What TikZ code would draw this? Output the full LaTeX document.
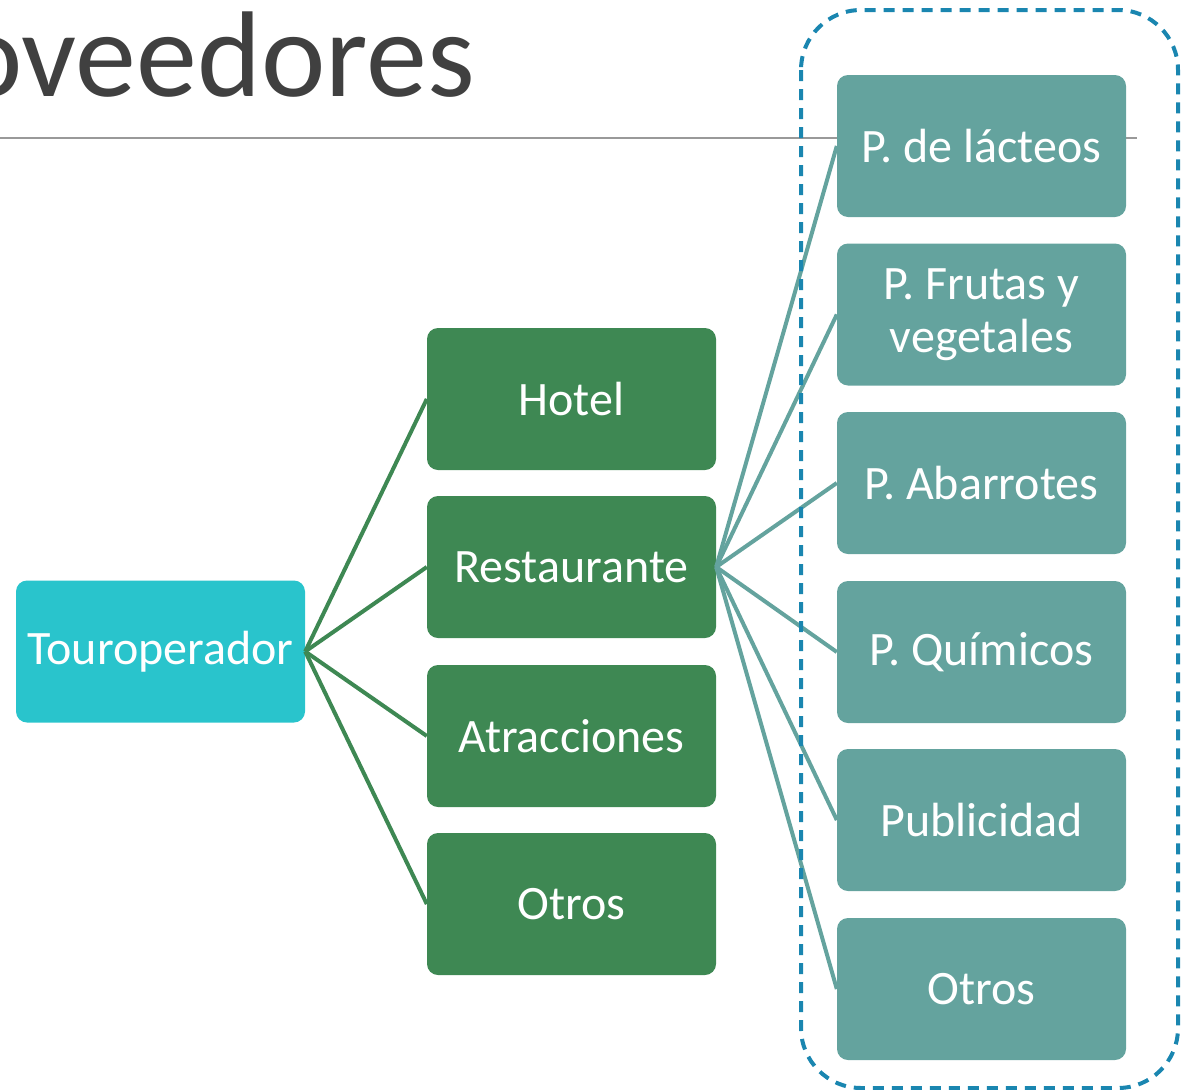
\documentclass[tikz,border=0pt]{standalone}
\usepackage{fontspec}
\setmainfont{Carlito}
\begin{document}
\begin{tikzpicture}[x=1pt,y=-1pt,
  box/.style={rounded corners=11pt,minimum width=289pt,minimum height=142pt,inner sep=0pt,text=white,font=\fontsize{48}{53}\selectfont,align=center},
  root/.style={box,fill=cyanbox},
  mid/.style={box,fill=greenbox},
  leaf/.style={box,fill=tealbox},
  gline/.style={draw=greenbox,line width=4pt},
  tline/.style={draw=tealbox,line width=4pt}]
\definecolor{cyanbox}{HTML}{29C4CC}
\definecolor{greenbox}{HTML}{3E8853}
\definecolor{tealbox}{HTML}{64A39E}
\definecolor{dashblue}{HTML}{1A86B0}
\definecolor{titlegray}{HTML}{404040}
\useasboundingbox (0,0) rectangle (1192,1090);
\begin{scope}
\clip (0,0) rectangle (1192,1090);
\node[anchor=base east,text=titlegray,font=\fontsize{122}{130}\selectfont,inner sep=0pt] (title) at (475,96) {Proveedores};
\end{scope}
\coordinate (hl) at (0,138);
\coordinate (hr) at (1137,138);
\draw[draw=gray!80,line width=2pt] (hl) -- (hr);
\node[root] (tour) at (160.5,651.5) {Touroperador};
\node[mid] (hotel) at (571.5,399) {Hotel};
\node[mid] (rest) at (571.5,567) {Restaurante};
\node[mid] (atr) at (571.5,736) {Atracciones};
\node[mid] (otros) at (571.5,904) {Otros};
\node[leaf] (l1) at (981.5,146) {P. de lácteos};
\node[leaf] (l2) at (981.5,314.5) {P. Frutas y\\vegetales};
\node[leaf] (l3) at (981.5,483) {P. Abarrotes};
\node[leaf] (l4) at (981.5,652) {P. Químicos};
\node[leaf] (l5) at (981.5,820) {Publicidad};
\node[leaf] (l6) at (981.5,989) {Otros};
\foreach \t in {hotel,rest,atr,otros} \draw[gline] (tour.east) -- (\t.west);
\foreach \t in {l1,l2,l3,l4,l5,l6} \draw[tline] (rest.east) -- (\t.west);
\coordinate (dtl) at (801,10);
\coordinate (dbr) at (1178,1088);
\draw[dashblue,line width=4pt,dash pattern=on 11pt off 8pt,rounded corners=60pt] (dtl) rectangle (dbr);
\end{tikzpicture}
\end{document}
